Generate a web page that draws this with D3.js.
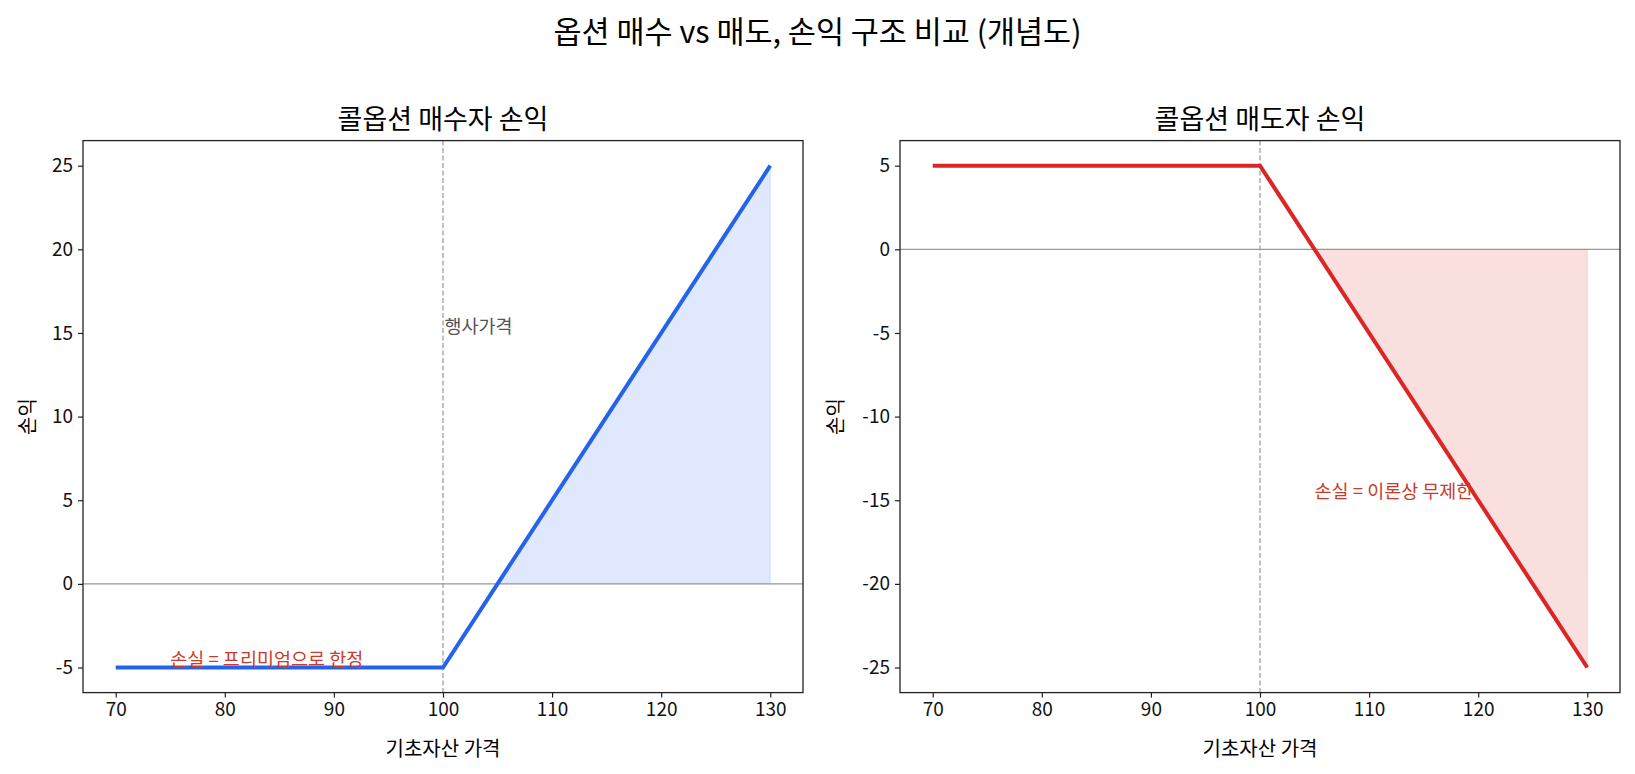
<!DOCTYPE html>
<html>
<head>
    <meta charset="utf-8">
    <script src="https://d3js.org/d3.v7.min.js"></script>
    <style>
        body { margin: 0; background: #fff; }
        svg { font-family: "Noto Sans CJK KR", "Noto Sans", sans-serif; }
    </style>
</head>
<body>
    <svg id="chart" width="1635" height="774"></svg>

    <script>
        // Data (strike 100, premium 5)
        const prices = [70, 100, 105, 130];
        const buyerPnL = [-5, -5, 0, 25];
        const sellerPnL = [5, 5, 0, -25];
        const strike = 100;
        const xTicks = [70, 80, 90, 100, 110, 120, 130];
        const buyerTicks = [-5, 0, 5, 10, 15, 20, 25];
        const sellerTicks = [-25, -20, -15, -10, -5, 0, 5];

        const svg = d3.select("#chart");
        const W = 720, H = 552, axTop = 140.6;

        svg.append("text")
            .attr("x", 817.5).attr("y", 43)
            .attr("text-anchor", "middle")
            .attr("font-size", 30.5)
            .text("옵션 매수 vs 매도, 손익 구조 비교 (개념도)");

        function panel(opts) {
            const g = svg.append("g").attr("transform", `translate(${opts.left},${axTop})`);

            const x = d3.scaleLinear().domain([67, 133]).range([0, W]);
            const y = d3.scaleLinear().domain(opts.ydom).range([H, 0]);
            const pts = prices.map((p, i) => [p, opts.pnl[i]]);

            // shaded area (from break-even onward)
            const fillPts = pts.filter(d => d[0] >= 105);
            g.append("path")
                .datum(fillPts)
                .attr("d", d3.area().x(d => x(d[0])).y0(y(0)).y1(d => y(d[1])))
                .attr("fill", opts.color).attr("fill-opacity", 0.15)
                .attr("stroke", opts.color).attr("stroke-opacity", 0.15);

            // zero line and strike line
            g.append("line")
                .attr("x1", 0).attr("x2", W).attr("y1", y(0)).attr("y2", y(0))
                .attr("stroke", "#999").attr("stroke-width", 1.2);
            g.append("line")
                .attr("x1", x(strike)).attr("x2", x(strike)).attr("y1", 0).attr("y2", H)
                .attr("stroke", "#999").attr("stroke-width", 1.2)
                .attr("stroke-dasharray", "5,2.5");

            g.append("path")
                .datum(pts)
                .attr("d", d3.line().x(d => x(d[0])).y(d => y(d[1])))
                .attr("fill", "none").attr("stroke", opts.color)
                .attr("stroke-width", 4);

            // axes
            const xAxis = g.append("g").attr("transform", `translate(0,${H})`)
                .call(d3.axisBottom(x).tickValues(xTicks).tickSize(5).tickPadding(5));
            const yAxis = g.append("g")
                .call(d3.axisLeft(y).tickValues(opts.ticks).tickSize(5).tickPadding(5)
                    .tickFormat(d => String(d)));
            [xAxis, yAxis].forEach(a => {
                a.select(".domain").remove();
                a.selectAll("line").attr("stroke", "#222").attr("stroke-width", 1.2);
                a.selectAll("text").attr("font-size", 19).attr("fill", "#111")
                    .attr("font-family", "Noto Sans CJK KR");
            });

            g.append("rect")
                .attr("width", W).attr("height", H)
                .attr("fill", "none").attr("stroke", "#222").attr("stroke-width", 1.3);

            // annotations
            opts.notes.forEach(n => {
                g.append("text")
                    .attr("x", x(n.x)).attr("y", y(n.y) + (n.dy || -2))
                    .attr("dx", n.dx || 0)
                    .attr("font-size", 18.5).attr("fill", n.color)
                    .text(n.text);
            });

            g.append("text")
                .attr("x", W / 2).attr("y", -12)
                .attr("text-anchor", "middle").attr("font-size", 27)
                .text(opts.title);
            g.append("text")
                .attr("x", W / 2).attr("y", H + 63)
                .attr("text-anchor", "middle").attr("font-size", 20)
                .text("기초자산 가격");
            g.append("text")
                .attr("transform", `translate(${opts.ylabelX},${H / 2}) rotate(-90)`)
                .attr("text-anchor", "middle").attr("dy", "0.35em").attr("font-size", 20)
                .text("손익");
        }

        panel({
            left: 83, title: "콜옵션 매수자 손익", pnl: buyerPnL, color: "#2563eb",
            ydom: [-6.5, 26.5], ticks: buyerTicks, ylabelX: -55,
            notes: [
                { x: 100, y: 15, dx: 1.5, dy: 0.5, text: "행사가격", color: "#555" },
                { x: 75, y: -5, text: "손실 = 프리미엄으로 한정", color: "#cc3a2a" }
            ]
        });

        panel({
            left: 900, title: "콜옵션 매도자 손익", pnl: sellerPnL, color: "#dc2626",
            ydom: [-26.5, 6.5], ticks: sellerTicks, ylabelX: -64,
            notes: [
                { x: 105, y: -15, text: "손실 = 이론상 무제한", color: "#cc3a2a" }
            ]
        });
    </script>
</body>
</html>
